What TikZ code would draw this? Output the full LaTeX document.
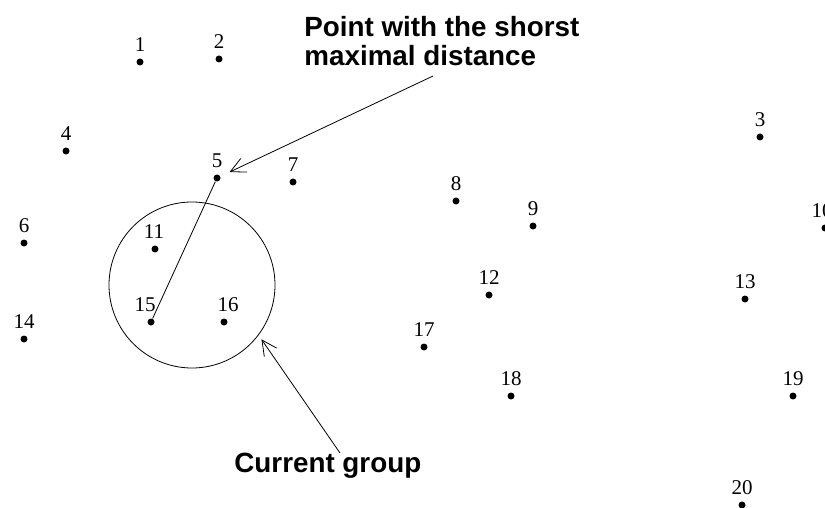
\documentclass[tikz,border=0pt]{standalone}
\usepackage{fontspec}
\setmainfont{Liberation Serif}
\newfontfamily\notefont{Liberation Sans}
\usetikzlibrary{arrows.meta,positioning}
\tikzset{
  dot/.style={circle,fill=black,inner sep=0pt,minimum size=7pt},
  num/.style={inner sep=0pt,font=\fontsize{21}{21}\selectfont},
  note/.style={inner sep=0pt,align=left,font=\notefont\bfseries\fontsize{27.8}{29}\selectfont},
  ptr/.style={-{Straight Barb[length=15pt,width=15pt]},line width=0.8pt}
}

\begin{document}
\begin{tikzpicture}[x=1pt,y=-1pt,line width=0.8pt]
\useasboundingbox (0,0) rectangle (825,508);
% points with their numbers
\foreach \n/\x/\y/\dx in {1/140/62/0,2/219/59/0,3/760/137/0,4/66/151/0,5/217/178/0,
    6/24/243/0,7/293/182/0,8/456/201/0,9/533/226/0,10/825/228/-3,11/155/249/-1,
    12/489/295/0,13/745/299/0,14/24/339/0,15/151/322/-6,16/224/322/4,17/424/347/0,
    18/511/396/0,19/793/396/0,20/742/505/0}{
  \node[dot] (p\n) at (\x,\y) {};
  \node[num,above=6pt of p\n,xshift=\dx pt] (l\n) {\n};
}
% current group
\node[draw,circle,inner sep=0pt,minimum size=166pt] (grp) at (192,285) {};
\draw (p15) -- (p5);
% notes
\node[note,anchor=north west] (top) at (304,16) {Point with the shorst\\maximal distance};
\node[note,anchor=base west] (cur) at (234,472) {Current group};
\coordinate (a1) at (433,76);
\coordinate (a2) at (340,453);
\draw[ptr,shorten >=10pt] (a1) -- (p5);
\draw[ptr,shorten >=5pt] (a2) -- (grp.-37);
\end{tikzpicture}
\end{document}
